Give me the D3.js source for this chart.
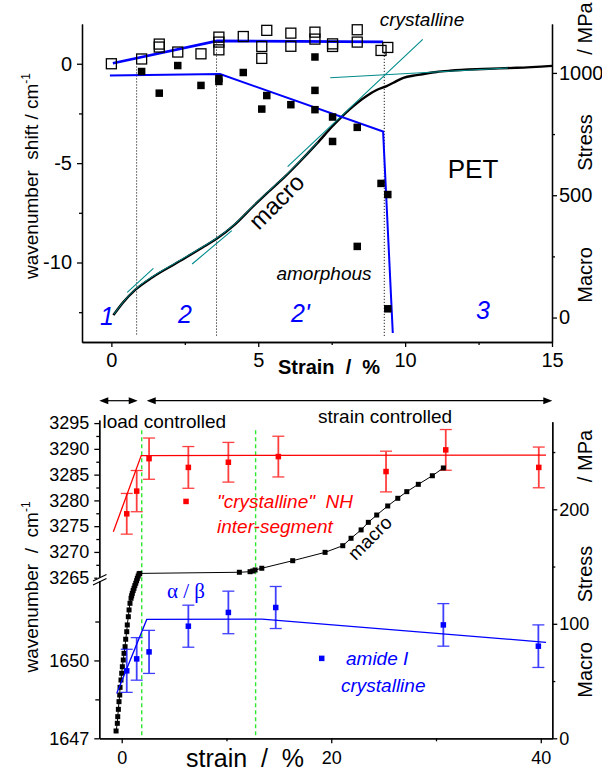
<!DOCTYPE html>
<html>
<head>
<meta charset="utf-8">
<script src="https://cdn.jsdelivr.net/npm/d3@7"></script>
<style>
  body { margin: 0; background: #fff; }
  svg { display: block; font-family: "Liberation Sans", Arial, sans-serif; }
</style>
</head>
<body>
<svg id="canvas"></svg>
<script>
// ---------- top panel (PET) ----------
var petCrystStrain = [0, 1.03, 1.63, 1.63, 2.26, 3.05, 3.66, 3.66, 3.66, 4.49, 5.29, 5.12, 5.12,
  6.11, 6.11, 6.93, 6.93, 7.53, 7.53, 8.37, 8.37, 9.18, 9.41];
var petCrystShift = [0, 0.24, 0.99, 0.84, 0.59, 0.50, 1.34, 1.09, 0.70, 1.37, 1.68, 0.87, 0.27,
  1.54, 0.88, 1.59, 1.24, 0.87, 1.0, 1.71, 1.09, 0.67, 0.82];

var petAmorStrain = [1.03, 1.63, 2.26, 3.05, 3.66, 3.66, 4.49, 5.29, 5.12, 6.11, 6.93, 6.93, 6.93,
  7.53, 7.53, 8.37, 8.37, 9.18, 9.41, 9.41];
var petAmorShift = [-0.39, -1.48, -0.09, -1.09, -0.74, -0.89, -0.44, -1.60, -2.28, -2.06, 0.34, -1.34, -2.31,
  -2.68, -3.91, -3.20, -9.19, -6.02, -6.58, -12.33];

var crystFitStrain = [0.05, 3.6, 9.25];
var crystFitShift = [0.02, 1.15, 1.1];
var amorFitStrain = [-0.05, 3.7, 9.25, 9.58];
var amorFitShift = [-0.59, -0.52, -3.41, -13.55];

// region borders (dotted)
var regionStrain = [0.86, 3.58, 9.29];
var regionTop = [-0.13, 1.17, 0.55];
var regionBottom = -13.7;

// macro stress-strain curve
var petStressStrain = [0.07, 0.4, 0.8, 1.4, 2.2, 3.1, 3.58, 4.2, 4.83, 5.29, 5.9, 6.42, 7.0, 7.55, 8.1,
  8.69, 9.03, 9.37, 9.6, 9.94, 10.39, 11.07, 11.53, 12.66, 13.8, 15.0];
var petStress = [10, 62, 112, 165, 222, 286, 322, 380, 455, 508, 575, 638, 712, 785, 850,
  906, 930, 946, 960, 980, 991, 1004, 1009, 1016, 1021, 1029];

// tangent segments
var tangentStrain = [[0.54, 1.43], [2.75, 4.10], [6.0, 10.6], [7.45, 13.5]];
var tangentStress = [[103, 201], [219, 355], [617, 1137], [980, 1020]];

var topXTicks = [0, 5, 10, 15];
var topXMinor = [2.5, 7.5, 12.5];
var topYTicks = [0, -5, -10];
var topYMinor = [-2.5, -7.5, -12.5];
var topStressTicks = [0, 500, 1000];
var topStressMinor = [250, 750];

// ---------- bottom panel ----------
var nhStrain = [0.48, 1.43, 2.61, 6.36, 10.18, 14.95, 25.23, 30.93, 39.81];
var nhWave = [3277.4, 3281.8, 3288.1, 3286.4, 3287.4, 3288.5, 3285.6, 3289.8, 3286.4];
var nhErr = [3.95, 4.0, 4.0, 4.05, 3.85, 3.95, 3.95, 3.95, 3.95];
var nhFitStrain = [-0.8, 1.86, 40.5];
var nhFitWave = [3273.9, 3288.7, 3288.8];

var amideStrain = [0.48, 1.43, 2.61, 6.36, 10.18, 14.70, 30.70, 39.77];
var amideWave = [1649.6, 1650.06, 1650.33, 1651.32, 1651.85, 1652.04, 1651.37, 1650.55];
var amideErr = [0.83, 0.82, 0.83, 0.81, 0.82, 0.81, 0.82, 0.82];
var amideFitStrain = [-0.48, 2.39, 13.4, 40.5];
var amideFitWave = [1648.73, 1651.58, 1651.59, 1650.7];

var macroStrain = [-0.54, -0.42, -0.38, -0.32, -0.26, -0.19, -0.16, -0.07, 0, 0.06, 0.15, 0.22, 0.32, 0.38,
  0.48, 0.53, 0.63, 0.70, 0.79, 0.89, 0.95, 1.01, 1.09, 1.17, 1.25, 1.34, 1.42, 1.49, 1.57, 1.65, 1.72,
  11.23, 12.25, 12.51, 12.73, 13.37, 16.32, 19.41, 21.10, 21.89, 22.85, 23.54, 24.34, 25.39, 26.35,
  27.21, 28.31, 29.65, 30.70];
var macroStress = [6.4, 13.1, 18.9, 25.3, 32.0, 37.8, 44.5, 50.9, 56.8, 62.5, 68.4, 74.2, 80.0, 86.5,
  93.1, 99.0, 106.2, 112.1, 117.9, 122.3, 124.5, 126.6, 129, 131.0, 133.3, 135.4, 137.6, 139.7, 141.7, 143.5, 144,
  145.0, 145.5, 146.1, 147.0, 148.5, 155.1, 162.4, 168.2, 174.7, 182.0, 188.6, 195.0, 202.9, 209.6,
  215.4, 221.8, 229.3, 236.1];

var controlStrain = [1.91, 12.78];

var botXTicks = [0, 20, 40];
var botXMinor = [10, 30];
var upTicks = [3265, 3270, 3275, 3280, 3285, 3290, 3295];
var upMinor = [3267.5, 3272.5, 3277.5, 3282.5, 3287.5, 3292.5];
var loTicks = [1647, 1650];
var loMinor = [1648.5, 1651.5];
var botStressTicks = [0, 100, 200];
var botStressMinor = [50, 150, 250];

// ---------- drawing ----------
var canvasWidth = 602;
var canvasHeight = 774;
var red = '#ff0000';
var blue = '#0000ff';
var teal = '#008b8b';

var svg = d3.select('#canvas')
  .attr('width', canvasWidth)
  .attr('height', canvasHeight);

var xTop = d3.scaleLinear().domain([-1, 15]).range([82, 552]);
var yTop = d3.scaleLinear().domain([-14, 2]).range([342, 24]);
var yTopStress = d3.scaleLinear().domain([-100, 1200]).range([342, 24]);

var xBot = d3.scaleLinear().domain([-2.14, 41.1]).range([99.3, 552.3]);
var yUp = d3.scaleLinear().domain([3265, 3295.6]).range([577.7, 420]);
var yLo = d3.scaleLinear().domain([1647, 1653.1]).range([738.3, 580]);
var yBotStress = d3.scaleLinear().domain([0, 276.5]).range([738.3, 421.7]);

function pathOf(xs, ys, sx, sy, curve) {
  return d3.line()
    .x(function(d) { return sx(d[0]); })
    .y(function(d) { return sy(d[1]); })
    .curve(curve || d3.curveLinear)(d3.zip(xs, ys));
}

function squares(g, xs, ys, sx, sy, size, fill, stroke) {
  g.selectAll(null)
    .data(d3.zip(xs, ys))
    .enter()
    .append('rect')
    .attr('x', function(d) { return sx(d[0]) - size / 2; })
    .attr('y', function(d) { return sy(d[1]) - size / 2; })
    .attr('width', size)
    .attr('height', size)
    .attr('fill', fill)
    .attr('stroke', stroke || 'none')
    .attr('stroke-width', stroke ? 1.3 : 0);
}

function errorBars(g, xs, ys, es, sx, sy, color) {
  var bars = g.selectAll(null)
    .data(d3.zip(xs, ys, es))
    .enter()
    .append('g')
    .attr('stroke', color)
    .attr('opacity', 0.75);
  bars.append('line')
    .attr('x1', function(d) { return sx(d[0]); })
    .attr('x2', function(d) { return sx(d[0]); })
    .attr('y1', function(d) { return sy(d[1] - d[2]); })
    .attr('y2', function(d) { return sy(d[1] + d[2]); })
    .attr('stroke-width', 1.8);
  [-1, 1].forEach(function(s) {
    bars.append('line')
      .attr('x1', function(d) { return sx(d[0]) - 6; })
      .attr('x2', function(d) { return sx(d[0]) + 6; })
      .attr('y1', function(d) { return sy(d[1] + s * d[2]); })
      .attr('y2', function(d) { return sy(d[1] + s * d[2]); })
      .attr('stroke-width', 1.3);
  });
}

function drawAxis(axis, tx, ty, fontSize) {
  var g = svg.append('g')
    .attr('transform', 'translate(' + tx + ',' + ty + ')')
    .call(axis);
  g.attr('font-size', fontSize)
    .attr('font-family', '"Liberation Sans", Arial, sans-serif');
  g.select('.domain').attr('stroke-width', 1.3);
  g.selectAll('.tick line').attr('stroke-width', 1.3);
  return g;
}

function plain(d) { return String(d); }

// ===== TOP PANEL =====
var topPanel = svg.append('g');

// dotted region lines
topPanel.selectAll(null)
  .data(d3.zip(regionStrain, regionTop))
  .enter()
  .append('line')
  .attr('x1', function(d) { return xTop(d[0]); })
  .attr('x2', function(d) { return xTop(d[0]); })
  .attr('y1', function(d) { return yTop(d[1]); })
  .attr('y2', yTop(regionBottom))
  .attr('stroke', '#222')
  .attr('stroke-width', 1)
  .attr('stroke-dasharray', '1.2,1.8');

// stress curve (black with teal fit on it)
topPanel.append('path')
  .attr('d', pathOf(petStressStrain, petStress, xTop, yTopStress, d3.curveMonotoneX))
  .attr('fill', 'none')
  .attr('stroke', '#000')
  .attr('stroke-width', 2.4);
topPanel.append('path')
  .attr('d', pathOf(petStressStrain.slice(0, 13), petStress.slice(0, 13), xTop, yTopStress, d3.curveMonotoneX))
  .attr('transform', 'translate(0.6,-1)')
  .attr('fill', 'none')
  .attr('stroke', teal)
  .attr('stroke-width', 1);

// tangents
topPanel.selectAll(null)
  .data(d3.zip(tangentStrain, tangentStress))
  .enter()
  .append('line')
  .attr('x1', function(d) { return xTop(d[0][0]); })
  .attr('x2', function(d) { return xTop(d[0][1]); })
  .attr('y1', function(d) { return yTopStress(d[1][0]); })
  .attr('y2', function(d) { return yTopStress(d[1][1]); })
  .attr('stroke', teal)
  .attr('stroke-width', 1.1);

// fits
topPanel.append('path')
  .attr('d', pathOf(crystFitStrain, crystFitShift, xTop, yTop))
  .attr('fill', 'none')
  .attr('stroke', blue)
  .attr('stroke-width', 2.6);
topPanel.append('path')
  .attr('d', pathOf(amorFitStrain, amorFitShift, xTop, yTop))
  .attr('fill', 'none')
  .attr('stroke', blue)
  .attr('stroke-width', 2);

squares(topPanel, petCrystStrain, petCrystShift, xTop, yTop, 10, 'none', '#000');
squares(topPanel, petAmorStrain, petAmorShift, xTop, yTop, 7.5, '#000');

// axes
drawAxis(d3.axisLeft(yTop).tickValues(topYTicks).tickSize(5).tickPadding(5).tickSizeOuter(0).tickFormat(plain), 82, 0, 20);
drawAxis(d3.axisLeft(yTop).tickValues(topYMinor).tickSize(3).tickSizeOuter(0).tickFormat(''), 82, 0, 20);
drawAxis(d3.axisBottom(xTop).tickValues(topXTicks).tickSize(5).tickPadding(6).tickSizeOuter(0).tickFormat(plain), 0, 342, 20);
drawAxis(d3.axisBottom(xTop).tickValues(topXMinor).tickSize(3).tickSizeOuter(0).tickFormat(''), 0, 342, 20);
drawAxis(d3.axisRight(yTopStress).tickValues(topStressTicks).tickSize(5).tickPadding(2).tickSizeOuter(0).tickFormat(plain), 552, 0, 20);
drawAxis(d3.axisRight(yTopStress).tickValues(topStressMinor).tickSize(3).tickSizeOuter(0).tickFormat(''), 552, 0, 20);

// titles
var leftTitleTop = svg.append('text')
  .attr('transform', 'translate(38,176) rotate(-90)')
  .attr('text-anchor', 'middle')
  .attr('font-size', 19)
  .style('white-space', 'pre');
leftTitleTop.append('tspan').text('wavenumber  shift / cm');
leftTitleTop.append('tspan').attr('dy', -8).attr('font-size', 12).text('-1');

[['Macro', 275], ['Stress', 142.5], ['/ MPa', 28.5]].forEach(function(t) {
  svg.append('text')
    .attr('transform', 'translate(592,' + t[1] + ') rotate(-90)')
    .attr('text-anchor', 'middle')
    .attr('font-size', 20)
    .text(t[0]);
});

svg.append('text')
  .attr('x', 329).attr('y', 374)
  .attr('text-anchor', 'middle')
  .attr('font-size', 20)
  .attr('font-weight', 'bold')
  .style('white-space', 'pre')
  .text('Strain  /  %');

svg.append('text').attr('x', 422).attr('y', 26).attr('text-anchor', 'middle')
  .attr('font-size', 19).attr('font-style', 'italic').text('crystalline');
svg.append('text').attr('x', 324).attr('y', 280).attr('text-anchor', 'middle')
  .attr('font-size', 19).attr('font-style', 'italic').text('amorphous');
svg.append('text').attr('x', 473).attr('y', 178).attr('text-anchor', 'middle')
  .attr('font-size', 26).text('PET');
svg.append('text')
  .attr('transform', 'translate(278,203) rotate(-45)')
  .attr('text-anchor', 'middle').attr('dy', '0.26em')
  .attr('font-size', 24).text('macro');

[['1', 100, 325], ['2', 178, 323], ["2'", 291, 322], ['3', 476, 319]].forEach(function(t) {
  svg.append('text')
    .attr('x', t[1]).attr('y', t[2])
    .attr('font-size', 25).attr('font-style', 'italic')
    .attr('fill', blue)
    .text(t[0]);
});

// ===== BOTTOM PANEL =====
var botPanel = svg.append('g');

// control regime borders
botPanel.selectAll(null)
  .data(controlStrain)
  .enter()
  .append('line')
  .attr('x1', function(d) { return xBot(d); })
  .attr('x2', function(d) { return xBot(d); })
  .attr('y1', yBotStress(269))
  .attr('y2', yBotStress(0))
  .attr('stroke', '#2ee82e')
  .attr('stroke-width', 1.4)
  .attr('stroke-dasharray', '4,3');

// red NH
botPanel.append('path')
  .attr('d', pathOf(nhFitStrain, nhFitWave, xBot, yUp))
  .attr('fill', 'none').attr('stroke', red).attr('stroke-width', 1.3);
errorBars(botPanel, nhStrain, nhWave, nhErr, xBot, yUp, red);
squares(botPanel, nhStrain, nhWave, xBot, yUp, 5.5, red);

// macro
botPanel.append('path')
  .attr('d', pathOf(macroStrain, macroStress, xBot, yBotStress))
  .attr('fill', 'none').attr('stroke', '#000').attr('stroke-width', 1);
squares(botPanel, macroStrain, macroStress, xBot, yBotStress, 5, '#000');

// blue amide I
botPanel.append('path')
  .attr('d', pathOf(amideFitStrain, amideFitWave, xBot, yLo))
  .attr('fill', 'none').attr('stroke', blue).attr('stroke-width', 1.3);
errorBars(botPanel, amideStrain, amideWave, amideErr, xBot, yLo, blue);
squares(botPanel, amideStrain, amideWave, xBot, yLo, 5.5, blue);

// axes
drawAxis(d3.axisLeft(yUp).tickValues(upTicks).tickSize(5).tickPadding(5).tickSizeOuter(0).tickFormat(plain), 99.3, 0, 18);
drawAxis(d3.axisLeft(yUp).tickValues(upMinor).tickSize(3).tickSizeOuter(0).tickFormat(''), 99.3, 0, 18);
drawAxis(d3.axisLeft(yLo).tickValues(loTicks).tickSize(5).tickPadding(5).tickSizeOuter(0).tickFormat(plain), 99.3, 0, 18);
drawAxis(d3.axisLeft(yLo).tickValues(loMinor).tickSize(4).tickSizeOuter(0).tickFormat(''), 99.3, 0, 18);
drawAxis(d3.axisBottom(xBot).tickValues(botXTicks).tickSize(5).tickPadding(8).tickSizeOuter(0).tickFormat(plain), 0, 738.3, 18);
drawAxis(d3.axisBottom(xBot).tickValues(botXMinor).tickSize(3).tickSizeOuter(0).tickFormat(''), 0, 738.3, 18);
drawAxis(d3.axisRight(yBotStress).tickValues(botStressTicks).tickSize(5).tickPadding(2).tickSizeOuter(0).tickFormat(plain), 552.3, 0, 18);
drawAxis(d3.axisRight(yBotStress).tickValues(botStressMinor).tickSize(3).tickSizeOuter(0).tickFormat(''), 552.3, 0, 18);

// axis break
svg.append('rect').attr('x', 97).attr('y', 577.5).attr('width', 5).attr('height', 3.5).attr('fill', '#fff');
[0, 4].forEach(function(o) {
  svg.append('line')
    .attr('x1', 93).attr('y1', 581 + o)
    .attr('x2', 106.5).attr('y2', 574.5 + o)
    .attr('stroke', '#000').attr('stroke-width', 1.2);
});

// titles
var leftTitleBot = svg.append('text')
  .attr('transform', 'translate(38,587) rotate(-90)')
  .attr('text-anchor', 'middle')
  .attr('font-size', 19)
  .style('white-space', 'pre');
leftTitleBot.append('tspan').text('wavenumber  /  cm');
leftTitleBot.append('tspan').attr('dy', -8).attr('font-size', 12).text('-1');

[['Macro', 670], ['Stress', 574], ['/ MPa', 456]].forEach(function(t) {
  svg.append('text')
    .attr('transform', 'translate(592,' + t[1] + ') rotate(-90)')
    .attr('text-anchor', 'middle')
    .attr('font-size', 20)
    .text(t[0]);
});

svg.append('text')
  .attr('x', 245).attr('y', 767)
  .attr('text-anchor', 'middle')
  .attr('font-size', 25)
  .style('white-space', 'pre')
  .text('strain  /  %');

// load / strain controlled arrows
function arrow(x1, x2, y) {
  svg.append('line').attr('x1', x1 + 6).attr('x2', x2 - 6).attr('y1', y).attr('y2', y)
    .attr('stroke', '#000').attr('stroke-width', 1.2);
  svg.append('path')
    .attr('d', 'M' + x1 + ',' + y + 'l9,-3.5v7z M' + x2 + ',' + y + 'l-9,-3.5v7z')
    .attr('fill', '#000');
}
arrow(xBot(-2.14), xBot(controlStrain[0]) - 4, 400.7);
arrow(xBot(controlStrain[0]) + 5, xBot(41.1), 400.7);

svg.append('text').attr('x', 102.5).attr('y', 428).attr('font-size', 19).text('load controlled');
svg.append('text').attr('x', 318).attr('y', 423).attr('font-size', 19).text('strain controlled');

// legends
squares(botPanel, [6.14], [3279.8], xBot, yUp, 5.5, red);
svg.append('text').attr('x', 217).attr('y', 508).attr('font-size', 19).attr('font-style', 'italic')
  .attr('fill', red).style('white-space', 'pre').text('"crystalline"  NH');
svg.append('text').attr('x', 217).attr('y', 533).attr('font-size', 19).attr('font-style', 'italic')
  .attr('fill', red).text('inter-segment');

squares(botPanel, [19.09], [1650.08], xBot, yLo, 5.5, blue);
svg.append('text').attr('x', 346).attr('y', 665).attr('font-size', 19).attr('font-style', 'italic')
  .attr('fill', blue).text('amide I');
svg.append('text').attr('x', 341).attr('y', 692).attr('font-size', 19).attr('font-style', 'italic')
  .attr('fill', blue).text('crystalline');

svg.append('text').attr('x', 167).attr('y', 598)
  .attr('font-family', '"Liberation Serif", "Times New Roman", serif')
  .attr('font-size', 21).attr('fill', blue)
  .style('white-space', 'pre')
  .text('\u03b1 / \u03b2');

svg.append('text')
  .attr('transform', 'translate(371,539) rotate(-45)')
  .attr('text-anchor', 'middle').attr('dy', '0.26em')
  .attr('font-size', 19).text('macro');
</script>
</body>
</html>
